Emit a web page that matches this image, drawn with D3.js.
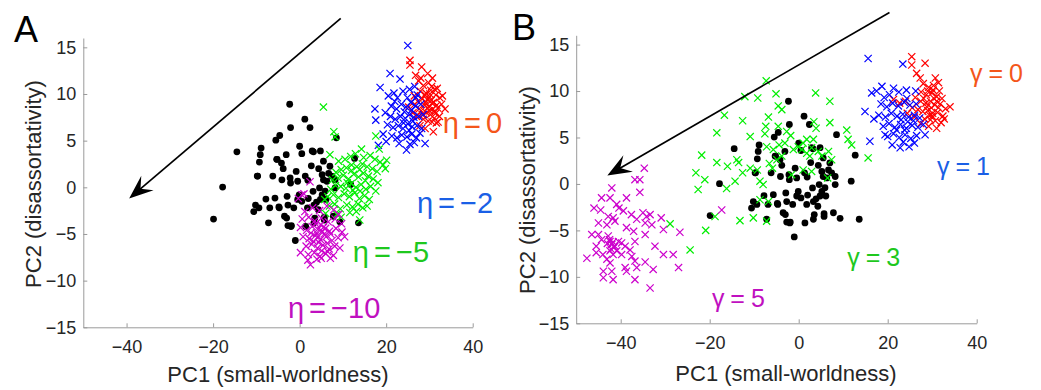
<!DOCTYPE html>
<html>
<head>
<meta charset="utf-8">
<script src="https://d3js.org/d3.v7.min.js"></script>
<style>
  body { margin: 0; background: #fff; }
  svg { display: block; font-family: "Liberation Sans", Arial, Helvetica, sans-serif; }
  .tick text { fill: #262626; font-size: 18px; }
  .domain, .tick line { stroke: #9a9a9a; }
</style>
</head>
<body>
<svg id="chart" width="1041" height="390"></svg>
<script>
// reference networks (black dots), same in both panels
const refPoints = [
  [-2.3,8.9],[1.2,7.3],[2.4,6.4],[-2.1,6.4],[8.5,5.3],[-5.5,5.05],[-4.6,5.55],[-8.9,4.2],[-14.5,3.8],[-9.1,3.5],
  [-9.3,2.7],[-5.3,3.0],[2.9,3.9],[4.8,3.9],[5.5,2.8],[12.7,3.1],[-3.1,3.5],[-4.2,2.6],[-0.8,1.7],[1.3,1.2],
  [2.7,2.3],[5.2,1.35],[7.4,1.2],[5.5,0.8],[6.3,0.65],[-17.8,0.03],[-9.8,1.2],[-3.8,2.0],[-2.2,1.0],[-2.1,0.46],
  [-0.45,0.65],[1.9,0.75],[4.6,-0.07],[5.9,-0.4],[5.2,-0.8],[8.2,-0.07],[11.8,0.3],[-7.8,-1.26],[-5.7,-1.15],[-4.8,-2.1],
  [-2.9,-0.97],[-2.7,-1.9],[-1.35,-2.2],[-0.45,-1.3],[-0.1,-0.8],[1.8,-2.2],[3.3,-1.9],[4.8,-1.3],[6.1,-1.3],[-10.2,-1.9],
  [-10.6,-2.6],[-19.9,-3.4],[-7.2,-3.8],[-3.5,-3.1],[-2.7,-4.1],[-2.0,-4.2],[1.4,-4.2],[3.3,-3.8],[3.5,-3.3],[5.7,-3.2],
  [5.7,-3.5],[7.8,-3.1],[9.3,-3.7],[13.6,-3.8],[-1.0,-5.7],[-9.4,-2.2],[6.7,1.5],[7.0,2.26],[4.4,2.0],[3.1,-0.43],
  [8.2,0.8],[0.0,4.4],[0.5,3.6],[3.2,3.8],[-5.2,3.0],[-6.2,1.2],[-9.7,1.2],[-4.1,0.8],[-6.9,-2.2],[-4.7,-2.2],
  [-3.0,-3.3],[-1.9,-4.1],[0.5,-1.5],[2.0,-1.2],[3.9,-1.6],[4.3,-2.4]
];

// panel A: eta sweep
const etaZero = [
  [25.5,13.6],[28.2,12.9],[25.5,13.1],[26.8,12.0],[27.5,11.4],[29.8,11.2],[30.5,10.8],[31.2,10.5],[28.6,10.9],[27.9,10.3],
  [29.2,10.1],[30.1,10.0],[31.5,9.9],[32.4,9.6],[28.4,9.5],[29.5,9.4],[30.4,9.3],[31.0,9.1],[27.3,9.2],[26.6,8.9],
  [28.9,8.8],[29.9,8.6],[30.8,8.4],[31.9,8.5],[33.6,8.4],[28.1,8.2],[29.3,8.0],[30.2,7.8],[31.4,7.9],[32.3,7.6],
  [27.0,7.6],[28.6,7.3],[29.7,7.1],[30.6,7.0],[31.6,6.9],[30.9,5.95],[29.0,6.3],[27.8,6.6],[26.2,8.0],[25.2,8.6],
  [30.0,9.7],[29.0,9.9],[31.8,10.6],[30.7,11.7],[29.6,12.2],[28.0,11.7],[32.8,8.9],[31.3,8.1],[29.5,8.5],[30.3,10.4],
  [28.3,7.8],[27.6,8.4],[31.1,7.4],[32.0,7.0],[26.5,9.8],[33.0,9.8],[30.6,9.0],[29.1,9.1],[31.7,8.8],[30.0,8.2]
];
const etaMinus2 = [
  [25.0,15.2],[20.9,12.2],[23.2,11.6],[18.6,10.7],[17.4,8.4],[17.6,7.2],[18.2,4.5],[29.0,4.7],[24.7,4.0],[20.5,9.8],
  [21.8,10.1],[22.6,9.6],[23.9,10.3],[25.4,10.5],[26.6,10.8],[27.2,9.9],[21.2,8.7],[22.4,8.4],[23.5,8.9],[24.6,8.6],
  [25.7,9.1],[26.8,8.7],[28.0,8.9],[19.8,8.0],[21.0,7.6],[22.1,7.3],[23.3,7.6],[24.4,7.4],[25.4,7.8],[26.4,7.5],
  [27.5,7.6],[28.6,7.8],[20.3,6.7],[21.6,6.4],[22.8,6.6],[23.9,6.3],[25.0,6.8],[26.0,6.5],[27.1,6.6],[28.2,6.3],
  [21.3,5.5],[22.5,5.3],[23.6,5.6],[24.8,5.4],[25.9,5.7],[27.0,5.3],[23.0,4.7],[25.5,4.6],[26.5,4.8],[24.2,8.1],
  [25.9,8.3],[26.9,9.6],[24.9,9.6],[22.0,9.2],[27.8,5.8],[19.3,5.7],[20.0,4.9],[26.2,7.1],[24.0,6.9],[25.3,6.1]
];
const etaMinus5 = [
  [5.5,8.6],[7.9,5.95],[8.2,5.4],[7.0,3.5],[13.9,-3.5],[17.6,5.5],[14.3,4.1],[18.4,4.1],[20.1,2.9],[19.3,2.4],
  [9.0,2.8],[10.5,3.0],[11.8,3.3],[12.9,3.6],[14.8,3.2],[16.3,3.4],[17.4,3.0],[18.6,2.7],[19.8,2.0],
  [8.4,1.6],[9.6,1.9],[10.8,2.1],[12.0,2.4],[13.2,2.2],[14.5,2.5],[15.6,2.2],[16.8,2.0],[17.9,1.7],
  [7.6,0.8],[8.9,1.0],[10.1,1.3],[11.3,0.9],[12.5,1.4],[13.6,1.1],[14.7,1.5],[15.9,1.2],[17.0,0.9],[18.1,0.5],
  [7.2,-0.2],[8.3,0.2],[9.5,0.1],[10.7,-0.1],[11.9,0.4],[13.0,0.0],[14.2,0.3],[15.3,-0.2],[16.4,0.1],[17.6,-0.4],
  [6.5,-1.0],[7.8,-0.8],[9.0,-1.1],[10.3,-0.7],[11.5,-1.0],[12.7,-0.6],[13.8,-1.2],[15.0,-0.9],[16.1,-1.3],
  [6.9,-2.0],[8.1,-1.8],[9.4,-2.3],[10.9,-1.9],[12.2,-2.1],[13.5,-1.8],[14.6,-2.2],[15.6,-2.0],
  [8.6,-2.9],[11.6,-2.7],[13.1,-2.6],[12.0,1.8],[13.9,1.9],[14.0,-0.4],[12.3,-0.3],[15.2,0.7],[11.0,0.5],
  [6.0,-2.8],[5.8,-1.3],[9.6,-3.2]
];
const etaMinus10 = [
  [2.4,0.6],[-0.3,-1.2],[0.5,-0.8],[1.0,-0.7],[2.5,-8.3],[0.2,-7.0],[5.0,-7.6],[7.1,-7.6],[6.5,-6.9],
  [1.2,-2.6],[3.0,-2.2],[4.6,-2.5],[6.3,-2.0],[7.9,-2.4],[9.0,-2.9],
  [0.6,-3.4],[2.1,-3.2],[3.5,-3.6],[5.0,-3.3],[6.6,-3.7],[8.2,-3.4],[9.7,-3.9],
  [0.2,-4.3],[1.6,-4.6],[2.9,-4.2],[4.2,-4.5],[5.5,-4.3],[6.9,-4.7],[8.4,-4.4],[9.8,-4.8],
  [0.8,-5.3],[2.2,-5.5],[3.6,-5.2],[4.8,-5.6],[6.1,-5.3],[7.5,-5.7],[8.9,-5.4],
  [1.5,-6.3],[2.8,-6.1],[4.1,-6.5],[5.4,-6.2],[6.8,-6.6],[8.1,-6.3],[9.3,-6.5],
  [2.0,-7.2],[3.4,-7.0],[4.7,-7.4],[6.0,-7.1],[7.8,-7.3],
  [3.9,-4.9],[4.4,-5.9],[5.7,-5.0],[3.2,-5.8],[2.6,-4.9],[4.9,-4.0],[6.4,-6.0],[5.1,-6.8],[7.2,-5.0],[3.7,-3.9],
  [10.4,-5.3],[1.9,-7.8],[4.0,-7.7],[5.2,-4.7],[4.3,-5.3],[6.0,-4.4]
];

// panel B: gamma sweep
const gammaZero = [
  [25.4,13.7],[28.4,13.0],[25.4,12.8],[26.5,11.9],[27.3,11.4],[31.4,10.9],[34.0,8.3],[31.0,6.0],[21.3,9.1],[22.7,8.7],
  [28.0,10.8],[29.2,10.4],[30.3,10.6],[31.6,10.0],[27.5,9.9],[28.7,9.6],[29.9,9.8],[31.0,9.4],[32.2,9.2],
  [26.2,9.3],[27.4,8.9],[28.6,8.7],[29.6,8.9],[30.6,8.5],[31.8,8.6],[33.0,8.1],
  [25.5,8.2],[26.8,8.0],[27.9,7.8],[29.0,7.9],[30.1,7.6],[31.2,7.7],[32.4,7.3],
  [24.4,7.6],[26.0,7.2],[28.3,7.0],[29.6,6.9],[30.7,6.8],[32.0,6.6],[29.2,6.2],[27.4,6.5],
  [29.8,8.2],[30.4,9.2],[28.1,9.2],[31.4,8.2],[29.0,10.0],[30.0,7.3],[24.0,8.9],[30.7,11.4],[32.7,7.0],
  [30.2,10.1],[29.4,7.4],[31.0,8.9],[28.8,8.3]
];
const gammaOne = [
  [15.6,13.5],[23.4,12.9],[16.4,9.8],[17.5,10.0],[18.7,10.5],[21.3,10.3],[14.9,7.8],[16.9,7.0],[16.0,4.6],[19.4,5.3],
  [22.8,3.9],[28.4,5.3],[19.2,9.3],[20.4,9.6],[22.5,9.9],[24.2,10.1],[26.3,10.0],
  [18.5,8.6],[19.8,8.3],[21.1,8.7],[22.4,8.4],[23.7,8.8],[25.0,8.5],[26.4,8.6],
  [18.0,7.4],[19.5,7.2],[20.8,7.6],[22.1,7.3],[23.4,7.5],[24.7,7.2],[26.0,7.4],[27.2,7.1],
  [19.0,6.2],[20.3,6.5],[21.6,6.1],[22.9,6.4],[24.2,6.0],[25.5,6.3],[26.8,6.1],[28.0,6.4],
  [20.0,5.1],[21.3,5.4],[22.6,5.0],[23.9,5.3],[25.2,4.9],[26.5,5.2],
  [21.0,4.2],[23.5,4.5],[24.8,4.0],[26.0,4.4],
  [23.0,6.9],[24.5,6.7],[25.8,6.8],[22.0,5.8],[23.8,5.8],[24.3,9.2]
];
const gammaThree = [
  [-7.3,11.1],[-12.1,9.4],[-9.2,9.25],[-5.1,9.7],[3.8,9.8],[7.0,8.9],[-4.6,8.4],[-3.8,8.0],[-16.7,7.4],[-12.6,6.8],
  [-6.8,7.2],[-7.4,6.2],[-18.4,5.5],[-10.9,5.1],[-7.6,5.4],[-4.6,6.2],[-2.7,5.65],[-1.8,5.2],[3.4,6.7],[3.9,6.0],
  [7.0,6.6],[10.8,5.8],[11.1,4.8],[11.9,4.2],[-21.8,3.1],[-18.4,2.3],[-16.0,1.9],[-13.9,2.6],[-13.5,2.3],[-12.6,1.2],
  [-10.9,1.7],[-9.3,1.5],[-6.6,2.2],[-5.9,1.7],[-4.9,2.6],[-3.8,3.0],[-7.2,4.0],[-5.7,3.7],[-3.1,4.4],[-1.2,3.7],
  [-0.1,4.0],[1.0,4.4],[1.8,4.8],[2.9,3.9],[3.3,4.8],[4.4,3.5],[5.2,3.0],[6.7,3.5],[7.4,2.6],[1.0,1.5],
  [2.9,1.35],[-1.6,1.0],[6.5,0.65],[15.6,2.8],[-23.1,1.2],[-22.6,-0.6],[-21.1,0.46],[-16.2,-0.5],[-14.3,0.3],[-8.7,0.3],
  [-8.0,-0.07],[-18.8,-3.5],[-20.9,-5.0],[-24.4,-7.1],[-28.9,-4.3],[-13.2,-3.95],[-10.2,-3.65],[-7.2,-4.0],[-8.7,-1.7],[-6.8,-1.9],
  [-4.4,4.2],[0.7,3.7],[1.8,3.3],[2.5,3.0]
];
const gammaFive = [
  [-34.7,1.7],[-36.8,0.46],[-35.7,0.46],[-35.7,-0.9],[-42.0,-0.43],[-44.3,-1.5],[-42.4,-1.5],[-38.7,-1.5],[-40.9,-2.2],[-46.0,-2.6],
  [-44.5,-2.8],[-40.4,-2.6],[-39.4,-2.9],[-37.6,-3.3],[-35.0,-3.1],[-34.2,-3.5],[-33.4,-3.3],[-30.9,-3.65],[-42.8,-3.5],[-41.7,-3.65],
  [-45.0,-4.2],[-43.1,-4.4],[-41.3,-4.0],[-36.4,-3.8],[-34.5,-4.2],[-33.0,-4.4],[-38.7,-4.7],[-37.1,-5.1],[-30.4,-4.9],[-26.7,-5.2],
  [-46.5,-5.45],[-45.0,-5.45],[-42.8,-5.6],[-42.4,-6.2],[-41.7,-6.25],[-42.0,-6.5],[-41.3,-6.7],[-39.8,-6.35],[-39.0,-6.7],[-36.8,-6.2],
  [-34.5,-5.45],[-32.3,-6.7],[-30.4,-7.6],[-28.2,-7.6],[-44.3,-6.0],[-45.5,-6.7],[-47.6,-8.0],[-45.5,-7.4],[-44.0,-7.6],[-43.1,-8.1],
  [-42.4,-8.5],[-40.9,-7.2],[-39.8,-7.6],[-37.9,-7.1],[-37.5,-7.8],[-36.8,-8.3],[-39.0,-9.0],[-36.4,-9.0],[-34.5,-8.4],[-32.7,-9.2],
  [-27.0,-9.0],[-43.9,-9.4],[-42.0,-9.4],[-43.9,-10.1],[-41.7,-10.3],[-36.8,-10.3],[-33.4,-11.2],[-38.7,-9.4],[-42.4,-7.2],[-41.7,-7.6],
  [-17.3,-2.8],[-42.5,-6.0],[-41.5,-6.8],[-42.2,-7.0],[-40.5,-6.2],[-43.0,-6.4]
];

const xTicks = [-40, -20, 0, 20, 40];
const yTicks = [-15, -10, -5, 0, 5, 10, 15];

const colors = { ref: "#000", red: "#ff0000", blue: "#0000ff", green: "#00ee00", magenta: "#cc00cc" };
const labelColors = { red: "#f4561a", blue: "#1a5fe6", green: "#1ec81e", magenta: "#c010c0" };

const panels = [
  {
    letter: "A", letterPos: [14, 42],
    xRange: [83.3, 472.7], yRange: [327.3, 38.0],
    xLabelPos: [278, 382], yLabelPos: [40.5, 184],
    arrow: [[9.5, 18.1], [-39.4, -1.2]],
    series: [
      { pts: etaZero, color: "red" }, { pts: etaMinus2, color: "blue" },
      { pts: etaMinus5, color: "green" }, { pts: etaMinus10, color: "magenta" }
    ],
    labels: [
      { text: "η = 0", x: 33.1, y: 5.8, color: "red" },
      { text: "η = −2", x: 27.1, y: -2.75, color: "blue" },
      { text: "η = −5", x: 12.3, y: -7.97, color: "green" },
      { text: "η = −10", x: -2.7, y: -14.0, color: "magenta" }
    ],
    labelSize: 29, wordSpacing: -3
  },
  {
    letter: "B", letterPos: [512, 40],
    xRange: [576.2, 976.7], yRange: [323.3, 35.3],
    xLabelPos: [786, 381], yLabelPos: [535, 190],
    arrow: [[20.4, 18.45], [-43, 0.92]],
    series: [
      { pts: gammaZero, color: "red" }, { pts: gammaOne, color: "blue" },
      { pts: gammaThree, color: "green" }, { pts: gammaFive, color: "magenta" }
    ],
    labels: [
      { text: "γ = 0", x: 38.5, y: 11.0, color: "red" },
      { text: "γ = 1", x: 31.1, y: 1.0, color: "blue" },
      { text: "γ = 3", x: 10.9, y: -8.86, color: "green" },
      { text: "γ = 5", x: -19.5, y: -13.2, color: "magenta" }
    ],
    labelSize: 25, wordSpacing: -1
  }
];

const svg = d3.select("#chart");
const cross = "M-3.6,-3.6L3.6,3.6M-3.6,3.6L3.6,-3.6";

panels.forEach(p => {
  const x = d3.scaleLinear().domain([-50, 40]).range(p.xRange);
  const y = d3.scaleLinear().domain([-15, 16]).range(p.yRange);
  const g = svg.append("g");

  // axes, ticks pointing inward
  g.append("g")
    .attr("transform", "translate(0," + p.yRange[0] + ")")
    .call(d3.axisBottom(x).tickValues(xTicks).tickSizeInner(-4).tickSizeOuter(0).tickPadding(13));
  g.append("g")
    .attr("transform", "translate(" + p.xRange[0] + ",0)")
    .call(d3.axisLeft(y).tickValues(yTicks).tickSizeInner(-4).tickSizeOuter(0).tickPadding(7));

  // reference dots
  g.append("g").selectAll("circle")
    .data(refPoints)
    .enter()
    .append("circle")
    .attr("cx", d => x(d[0]))
    .attr("cy", d => y(d[1]))
    .attr("r", 3.4)
    .attr("fill", colors.ref);

  // crosses
  p.series.forEach(s => {
    g.append("g").selectAll("path")
      .data(s.pts)
      .enter()
      .append("path")
      .attr("d", cross)
      .attr("transform", d => "translate(" + x(d[0]) + "," + y(d[1]) + ")")
      .attr("fill", "none")
      .attr("stroke", colors[s.color])
      .attr("stroke-width", 1.2);
  });

  // arrow
  const x0 = x(p.arrow[0][0]), y0 = y(p.arrow[0][1]);
  const x1 = x(p.arrow[1][0]), y1 = y(p.arrow[1][1]);
  const len = Math.hypot(x1 - x0, y1 - y0);
  const ux = (x0 - x1) / len, uy = (y0 - y1) / len;   // back direction
  const px = -uy, py = ux;
  const L = 24, W = 9.5;
  g.append("line")
    .attr("x1", x0).attr("y1", y0)
    .attr("x2", x1 + ux * 14).attr("y2", y1 + uy * 14)
    .attr("stroke", "#000").attr("stroke-width", 1.7);
  g.append("path")
    .attr("d", "M" + x1 + "," + y1 +
      "L" + (x1 + ux * L + px * W) + "," + (y1 + uy * L + py * W) +
      "L" + (x1 + ux * L * 0.62) + "," + (y1 + uy * L * 0.62) +
      "L" + (x1 + ux * L - px * W) + "," + (y1 + uy * L - py * W) + "Z")
    .attr("fill", "#000");

  // series labels
  g.selectAll(".lbl")
    .data(p.labels)
    .enter()
    .append("text")
    .attr("x", d => x(d.x))
    .attr("y", d => y(d.y))
    .attr("fill", d => labelColors[d.color])
    .style("font-size", p.labelSize + "px")
    .style("word-spacing", p.wordSpacing + "px")
    .text(d => d.text);

  // axis titles
  g.append("text")
    .attr("x", p.xLabelPos[0]).attr("y", p.xLabelPos[1])
    .attr("text-anchor", "middle")
    .attr("fill", "#262626")
    .style("font-size", "22px")
    .text("PC1 (small-worldness)");
  g.append("text")
    .attr("transform", "translate(" + p.yLabelPos[0] + "," + p.yLabelPos[1] + ") rotate(-90)")
    .attr("text-anchor", "middle")
    .attr("fill", "#262626")
    .style("font-size", "22px")
    .text("PC2 (disassortativity)");

  // panel letter
  g.append("text")
    .attr("x", p.letterPos[0]).attr("y", p.letterPos[1])
    .attr("fill", "#000")
    .style("font-size", "36px")
    .text(p.letter);
});
</script>
</body>
</html>
